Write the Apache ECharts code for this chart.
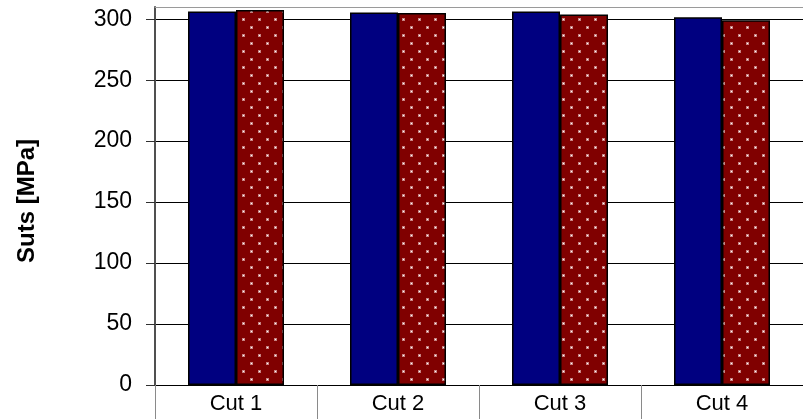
<!DOCTYPE html>
<html>
<head>
<meta charset="utf-8">
<script src="https://cdn.jsdelivr.net/npm/echarts@6/dist/echarts.min.js"></script>
<style>
  html, body { margin: 0; padding: 0; background: #ffffff; }
  #chart { width: 803px; height: 419px; }
</style>
</head>
<body>
<div id="chart"></div>
<script>
// Tensile strength per cut, two specimens each
const categories = ['Cut 1', 'Cut 2', 'Cut 3', 'Cut 4'];
const seriesA = [306.4, 305.4, 306.4, 301.6];
const seriesB = [307.6, 305.0, 303.8, 299.2];
const yTicks = [0, 50, 100, 150, 200, 250, 300];

// Dark red fill sprinkled with light dots
function dotPattern() {
  const c = document.createElement('canvas');
  c.width = 16; c.height = 16;
  const g = c.getContext('2d');
  g.fillStyle = '#800000';
  g.fillRect(0, 0, 16, 16);
  g.fillStyle = 'rgba(255,235,235,0.55)';
  g.fillRect(2, 2, 3, 3);
  g.fillRect(10, 10, 3, 3);
  g.fillStyle = '#ffffff';
  g.fillRect(3, 3, 1, 1);
  g.fillRect(11, 11, 1, 1);
  return c;
}

const font = '"Liberation Sans", Arial, sans-serif';
const chart = echarts.init(document.getElementById('chart'), null, { renderer: 'canvas' });

chart.setOption({
  animation: false,
  backgroundColor: '#ffffff',
  grid: { left: 155, right: -12, top: 7, bottom: 34, containLabel: false },
  xAxis: [
    {
      type: 'category',
      data: categories,
      position: 'bottom',
      axisLine: { show: true, lineStyle: { color: '#000000', width: 1 } },
      axisTick: { show: true, alignWithLabel: false, interval: 0, inside: false, length: 34,
                  lineStyle: { color: '#8a8a8a', width: 1 } },
      axisLabel: { color: '#000000', fontFamily: font, fontSize: 22, margin: 8 },
      splitLine: { show: false }
    },
    {
      type: 'category',
      data: categories,
      position: 'top',
      axisLine: { show: true, lineStyle: { color: '#9a9a9a', width: 1 } },
      axisTick: { show: false },
      axisLabel: { show: false },
      splitLine: { show: false }
    }
  ],
  yAxis: {
    type: 'value',
    min: 0,
    max: 310,
    interval: 50,
    name: 'Suts [MPa]',
    nameLocation: 'middle',
    nameGap: 116,
    nameRotate: 90,
    nameTextStyle: { color: '#000000', fontFamily: font, fontSize: 24, fontWeight: 'bold',
                     padding: [0, 10, 0, 0] },
    axisLine: { show: true, lineStyle: { color: '#505050', width: 2 } },
    axisTick: { show: true, inside: false, length: 9, lineStyle: { color: '#303030', width: 1 } },
    axisLabel: {
      color: '#000000', fontFamily: font, fontSize: 23, margin: 23,
      showMaxLabel: false,
      formatter: v => (yTicks.indexOf(v) >= 0 ? String(v) : '')
    },
    splitLine: { show: true, showMaxLine: false, lineStyle: { color: '#000000', width: 1 } }
  },
  series: [
    {
      name: 'A',
      type: 'bar',
      data: seriesA,
      barWidth: 48,
      barGap: '0%',
      itemStyle: { color: '#000080', borderColor: '#000000', borderWidth: 1.5 }
    },
    {
      name: 'B',
      type: 'bar',
      data: seriesB,
      barWidth: 48,
      barGap: '0%',
      itemStyle: { color: { image: dotPattern(), repeat: 'repeat' }, borderColor: '#000000', borderWidth: 1.5 }
    }
  ]
});
</script>
</body>
</html>
